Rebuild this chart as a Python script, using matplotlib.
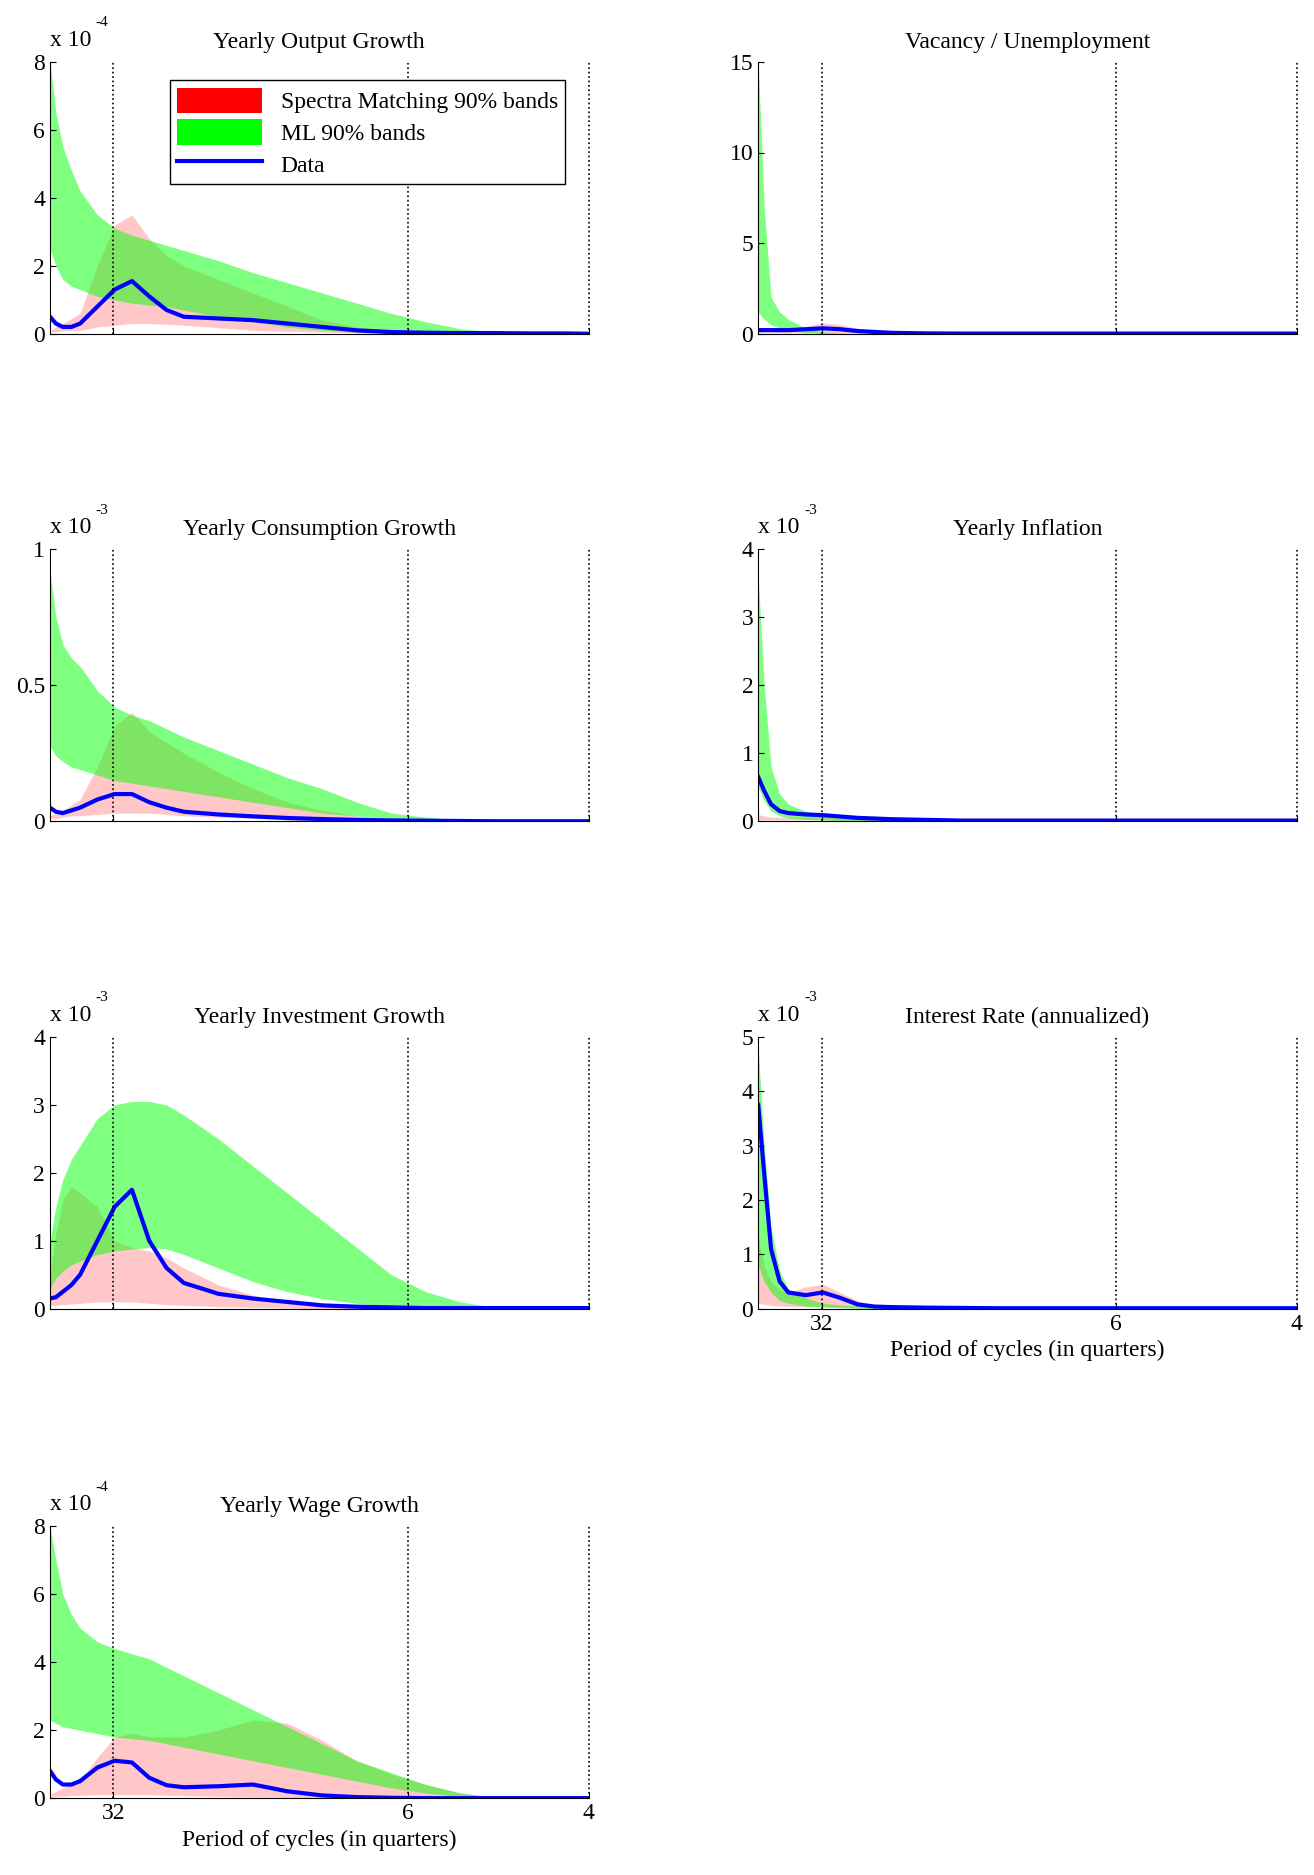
import numpy as np
import matplotlib
matplotlib.use("Agg")
import matplotlib.pyplot as plt
from matplotlib.patches import Patch
from matplotlib.lines import Line2D

plt.rcParams['font.family'] = ['Liberation Serif', 'DejaVu Serif']

freq = [0.013,0.03,0.05,0.075,0.1,0.15,0.2,0.25,0.3,0.35,0.4,0.5,0.6,0.7,0.8,0.9,1.0,1.1,1.2,1.3,1.4,1.5,1.571]

out_mlh=[8,6.5,5.5,4.8,4.2,3.5,3.1,2.9,2.75,2.6,2.45,2.15,1.8,1.5,1.2,0.9,0.6,0.35,0.15,0.05,0,0,0]
out_mll=[2.5,2.0,1.6,1.4,1.3,1.1,1.0,0.9,0.85,0.8,0.7,0.5,0.35,0.2,0.1,0.05,0.02,0,0,0,0,0,0]
out_smh=[0.1,0.2,0.3,0.45,0.6,2.0,3.2,3.5,2.8,2.3,2.0,1.6,1.2,0.8,0.4,0.2,0.1,0.05,0.02,0,0,0,0]
out_sml=[0.05,0.06,0.08,0.09,0.1,0.2,0.25,0.3,0.3,0.28,0.25,0.18,0.1,0.07,0.05,0.02,0,0,0,0,0,0,0]
out_dat=[0.5,0.3,0.2,0.2,0.3,0.8,1.3,1.55,1.1,0.7,0.5,0.45,0.4,0.3,0.2,0.1,0.05,0.03,0.02,0.02,0.01,0.01,0]

vac_mlh=[15,7,2,1.2,0.8,0.3,0.1,0.05,0,0,0,0,0,0,0,0,0,0,0,0,0,0,0]
vac_mll=[1.2,0.8,0.5,0.3,0.2,0.05,0.02,0,0,0,0,0,0,0,0,0,0,0,0,0,0,0,0]
vac_smh=[0.1,0.1,0.1,0.15,0.2,0.4,0.6,0.5,0.3,0.15,0.1,0.05,0,0,0,0,0,0,0,0,0,0,0]
vac_sml=[0.05,0.05,0.05,0.05,0.05,0.05,0.05,0.04,0.03,0.02,0.01,0,0,0,0,0,0,0,0,0,0,0,0]
vac_dat=[0.2,0.2,0.2,0.2,0.2,0.25,0.3,0.25,0.15,0.1,0.05,0.02,0.01,0.01,0.01,0.01,0.01,0.01,0.01,0.01,0.01,0.01,0.01]

con_mlh=[0.92,0.75,0.65,0.6,0.57,0.48,0.42,0.39,0.37,0.34,0.31,0.26,0.21,0.16,0.12,0.07,0.03,0.015,0.005,0,0,0,0]
con_mll=[0.28,0.24,0.22,0.2,0.19,0.17,0.15,0.14,0.13,0.12,0.11,0.09,0.07,0.05,0.03,0.02,0.01,0,0,0,0,0,0]
con_smh=[0.02,0.03,0.04,0.06,0.08,0.2,0.35,0.4,0.33,0.29,0.25,0.18,0.12,0.07,0.04,0.02,0.01,0,0,0,0,0,0]
con_sml=[0.01,0.01,0.015,0.02,0.02,0.025,0.03,0.03,0.03,0.025,0.02,0.015,0.01,0.005,0,0,0,0,0,0,0,0,0]
con_dat=[0.05,0.035,0.03,0.04,0.05,0.08,0.1,0.1,0.07,0.05,0.035,0.025,0.018,0.012,0.008,0.005,0.003,0.002,0.001,0,0,0,0]

inf_mlh=[3.6,2.0,0.8,0.4,0.25,0.15,0.1,0.07,0.05,0.04,0.03,0.02,0.01,0,0,0,0,0,0,0,0,0,0]
inf_mll=[0.5,0.3,0.15,0.08,0.05,0.03,0.02,0.01,0,0,0,0,0,0,0,0,0,0,0,0,0,0,0]
inf_smh=[0.1,0.08,0.06,0.06,0.06,0.06,0.07,0.05,0.04,0.03,0.02,0.01,0,0,0,0,0,0,0,0,0,0,0]
inf_sml=[0.02,0.02,0.02,0.02,0.02,0.02,0.02,0.01,0.01,0,0,0,0,0,0,0,0,0,0,0,0,0,0]
inf_dat=[0.65,0.45,0.25,0.15,0.12,0.1,0.09,0.07,0.05,0.04,0.03,0.02,0.01,0.01,0.01,0.01,0.01,0.01,0.01,0.01,0.01,0.01,0.01]

inv_mlh=[1.0,1.5,1.9,2.2,2.4,2.8,3.0,3.05,3.05,3.0,2.85,2.5,2.1,1.7,1.3,0.9,0.5,0.25,0.1,0.02,0,0,0]
inv_mll=[0.3,0.45,0.55,0.65,0.7,0.8,0.85,0.88,0.9,0.88,0.8,0.6,0.4,0.25,0.15,0.08,0.04,0.02,0,0,0,0,0]
inv_smh=[0.5,1.1,1.6,1.8,1.7,1.5,1.0,0.9,0.85,0.75,0.6,0.35,0.2,0.1,0.05,0.02,0,0,0,0,0,0,0]
inv_sml=[0.05,0.05,0.06,0.07,0.08,0.1,0.1,0.1,0.08,0.06,0.05,0.03,0.02,0.01,0,0,0,0,0,0,0,0,0]
inv_dat=[0.15,0.17,0.25,0.35,0.5,1.0,1.5,1.75,1.0,0.6,0.38,0.22,0.15,0.1,0.05,0.03,0.02,0.01,0.01,0.01,0.01,0.01,0.01]

int_mlh=[4.8,3.0,1.5,0.7,0.35,0.2,0.1,0.07,0.05,0.03,0.02,0.01,0,0,0,0,0,0,0,0,0,0,0]
int_mll=[0.8,0.5,0.3,0.15,0.1,0.05,0.03,0.02,0.01,0,0,0,0,0,0,0,0,0,0,0,0,0,0]
int_smh=[1.3,0.8,0.5,0.35,0.3,0.4,0.45,0.3,0.15,0.05,0.03,0.01,0,0,0,0,0,0,0,0,0,0,0]
int_sml=[0.1,0.08,0.06,0.05,0.04,0.04,0.04,0.03,0.02,0.01,0,0,0,0,0,0,0,0,0,0,0,0,0]
int_dat=[3.75,2.5,1.1,0.5,0.3,0.25,0.3,0.2,0.08,0.04,0.03,0.02,0.015,0.01,0.01,0.01,0.01,0.01,0.01,0.01,0.01,0.01,0.01]

wag_mlh=[8,7,6,5.4,5.0,4.6,4.4,4.25,4.1,3.85,3.6,3.1,2.6,2.1,1.6,1.1,0.75,0.4,0.15,0.02,0,0,0]
wag_mll=[2.3,2.2,2.1,2.05,2.0,1.9,1.8,1.75,1.7,1.6,1.5,1.3,1.1,0.9,0.7,0.5,0.3,0.15,0.05,0,0,0,0]
wag_smh=[0.1,0.2,0.3,0.4,0.5,1.2,1.8,1.9,1.8,1.8,1.8,2.0,2.3,2.2,1.7,1.1,0.7,0.4,0.15,0.03,0,0,0]
wag_sml=[0.05,0.05,0.05,0.07,0.08,0.1,0.1,0.1,0.1,0.08,0.07,0.05,0.03,0.02,0.01,0,0,0,0,0,0,0,0]
wag_dat=[0.8,0.55,0.4,0.4,0.5,0.9,1.1,1.05,0.6,0.38,0.32,0.35,0.4,0.2,0.08,0.03,0.01,0,0,0,0,0,0]

xtick_periods = [32, 6, 4]
xtick_labels = ['32', '6', '4']

panels = [
    ("Yearly Output Growth", (out_mlh,out_mll,out_smh,out_sml,out_dat), 8, [0,2,4,6,8], ['0','2','4','6','8'], '-4', (0.038,0.822), False),
    ("Vacancy / Unemployment", (vac_mlh,vac_mll,vac_smh,vac_sml,vac_dat), 15, [0,5,10,15], ['0','5','10','15'], None, (0.577,0.822), False),
    ("Yearly Consumption Growth", (con_mlh,con_mll,con_smh,con_sml,con_dat), 1, [0,0.5,1], ['0','0.5','1'], '-3', (0.038,0.562), False),
    ("Yearly Inflation", (inf_mlh,inf_mll,inf_smh,inf_sml,inf_dat), 4, [0,1,2,3,4], ['0','1','2','3','4'], '-3', (0.577,0.562), False),
    ("Yearly Investment Growth", (inv_mlh,inv_mll,inv_smh,inv_sml,inv_dat), 4, [0,1,2,3,4], ['0','1','2','3','4'], '-3', (0.038,0.302), False),
    ("Interest Rate (annualized)", (int_mlh,int_mll,int_smh,int_sml,int_dat), 5, [0,1,2,3,4,5], ['0','1','2','3','4','5'], '-3', (0.577,0.302), True),
    ("Yearly Wage Growth", (wag_mlh,wag_mll,wag_smh,wag_sml,wag_dat), 8, [0,2,4,6,8], ['0','2','4','6','8'], '-4', (0.038,0.041), True),
]

fig = plt.figure(figsize=(13.14, 18.75), dpi=100)
xt = [2*np.pi/p for p in xtick_periods]
FS = 17
for i, (title, arrs, ymax, yt, ytl, expo, pos, showx) in enumerate(panels):
    mlh, mll, smh, sml, dat = arrs
    ax = fig.add_axes([pos[0], pos[1], 0.41, 0.145])
    ax.fill_between(freq, sml, smh, color='#ff0000', alpha=0.22, lw=0)
    ax.fill_between(freq, mll, mlh, color='#00ff00', alpha=0.5, lw=0)
    ax.plot(freq, dat, color='#0000ff', lw=3)
    ax.set_xlim(0.0128, np.pi/2)
    ax.set_ylim(0, ymax)
    ax.set_yticks(yt)
    ax.set_yticklabels(ytl, fontsize=FS)
    ax.set_xticks(xt)
    if showx:
        ax.set_xticklabels(xtick_labels, fontsize=FS)
        ax.set_xlabel("Period of cycles (in quarters)", fontsize=FS)
    else:
        ax.set_xticklabels([])
    for v in xt:
        ax.axvline(v, color='k', ls=':', lw=1.2, clip_on=False)
    ax.spines['top'].set_visible(False)
    ax.spines['right'].set_visible(False)
    ax.tick_params(direction='in', length=4)
    ax.set_title(title, fontsize=FS, pad=10)
    if expo:
        ax.text(0.0, 1.04, "x 10", transform=ax.transAxes, fontsize=FS, ha='left', va='bottom')
        ax.text(0.085, 1.12, expo, transform=ax.transAxes, fontsize=11, ha='left', va='bottom')
    if i == 0:
        handles = [Patch(facecolor='#ff0000', edgecolor='none'),
                   Patch(facecolor='#00ff00', edgecolor='none'),
                   Line2D([], [], color='#0000ff', lw=3)]
        ax.legend(handles, ["Spectra Matching 90% bands", "ML 90% bands", "Data"],
                  loc='upper right', bbox_to_anchor=(0.978, 0.975), fontsize=FS,
                  fancybox=False, edgecolor='k', framealpha=1, handlelength=3.6,
                  handleheight=1.3, borderpad=0.3, labelspacing=0.25)

fig.savefig("out.png", dpi=100)
